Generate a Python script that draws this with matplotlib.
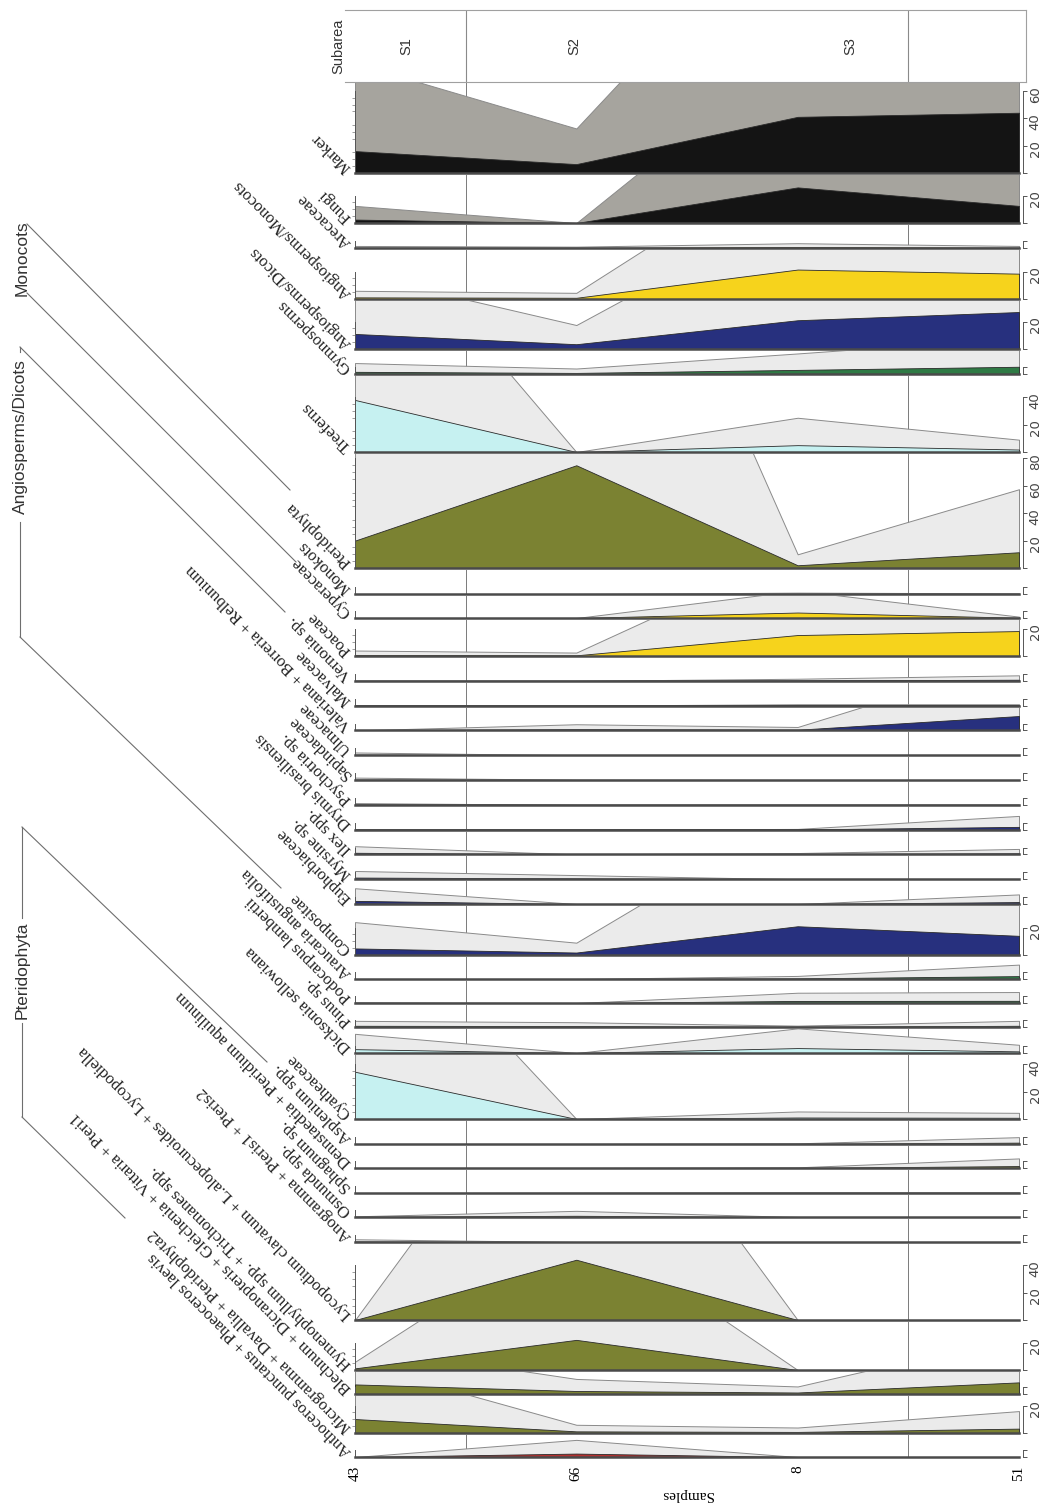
import numpy as np
import matplotlib
matplotlib.use('Agg')
from matplotlib import pyplot as plt
from matplotlib.lines import Line2D

# ---- data (percentages per sample) ----
samples = ['43', '66', '8', '51']
subarea_names = ['S1', 'S2', 'S3']
subarea_pos = [0.23, 0.99, 2.24]
subarea_bounds = [0.5, 2.5]

sum_names = ['Marker', 'Fungi', 'Arecaceae', 'Angiosperms/Monocots',
             'Angiosperms/Dicots', 'Gymnosperms', 'Treeferns', 'Pteridophyta']
sum_values = [[16, 6.5, 41, 44], [2.5, 0, 26, 12.5], [0.3, 0.2, 0.7, 0.3],
              [1.2, 0.9, 21.5, 18.5], [11, 3.5, 21, 27], [1.6, 0.8, 3, 5.3],
              [38, 0, 5, 1.8], [20, 75, 2, 11.5]]

monocot_names = ['Monokots', 'Cyperaceae', 'Poaceae']
monocot_values = [[0, 0, 0.2, 0.1], [0, 0, 4, 0.2], [0.8, 0.5, 15.3, 18.2]]

dicot_names = ['Vernonia sp.', 'Malvaceae', 'Valeriana + Borreria + Relbunium',
               'Ulmaceae', 'Sapindaceae', 'Psychotria sp.', 'Drymis brasiliensis',
               'Ilex spp.', 'Myrsine sp.', 'Euphorbiaceae', 'Compositae']
dicot_values = [[0, 0, 0.3, 0.8], [0, 0, 0.2, 0.2], [0, 0.9, 0.5, 10.5],
                [0.4, 0, 0, 0], [0.35, 0.05, 0, 0], [0.25, 0, 0, 0],
                [0, 0, 0.1, 2], [1.2, 0, 0.2, 0.8], [1.2, 0.6, 0, 0],
                [2.3, 0, 0, 1.4], [4.8, 1.8, 21, 14]]

gymno_names = ['Araucaria angustifolia', 'Podocarpus lambertii', 'Pinus sp.']
gymno_values = [[0, 0, 0.45, 2.1], [0.1, 0, 1.5, 1.6], [0.9, 0.7, 0.2, 0.9]]

treefern_names = ['Dicksonia sellowiana', 'Cyatheaceae']
treefern_values = [[2.8, 0, 3.6, 1.2], [34.5, 0, 1.1, 0.9]]

pterido_names = ['Asplenium spp.', 'Dennstaedtia + Pteridium aquilinum', 'Sphagnum sp.',
                 'Osmunda spp.', 'Anogramma + Pteris1 + Pteris2',
                 'Lycopodium clavatum + L.alopecuroides + Lycopodiella',
                 'Hymenophyllum spp. + Trichomanes spp.',
                 'Blechnum + Dicranopteris + Gleichenia + Vittaria + Pteri1',
                 'Microgramma + Davallia + Pteridophyta2',
                 'Anthoceros punctatus + Phaeoceros laevis']
pterido_values = [[0, 0, 0.1, 1], [0, 0, 0.1, 1.4], [0, 0.05, 0.1, 0.1],
                  [0.1, 0.9, 0, 0], [0.4, 0, 0, 0], [0, 44, 0, 0],
                  [1.2, 22, 0, 0], [7, 2.2, 1.1, 8.5], [10.2, 1.2, 0.8, 3.2],
                  [0, 2.5, 0, 0]]

EXAG = 5  # exaggeration factor of the grey curves

# ---- layout / style ----
W, H = 1043, 1510
X0, X1 = 355, 1019
TOP = 82
GAP = 2
PX_PER_PCT = 1.37

BLACK, YELLOW, BLUE = '#141414', '#f6d31c', '#27307e'
GREEN, CYAN, OLIVE, RED = '#2f7a45', '#c6f1f1', '#7b8232', '#b3302f'

names = sum_names + monocot_names + dicot_names + gymno_names + treefern_names + pterido_names
values = sum_values + monocot_values + dicot_values + gymno_values + treefern_values + pterido_values
colors = ([BLACK, BLACK, YELLOW, YELLOW, BLUE, GREEN, CYAN, OLIVE] + [YELLOW] * 3 +
          [BLUE] * 11 + [GREEN] * 3 + [CYAN] * 2 + [OLIVE] * 9 + [RED])
exag_colors = ['#a6a49e'] * 2 + ['#ebebeb'] * (len(names) - 2)
heights = ([91, 48, 23, 49, 48, 23, 76, 114, 24, 22, 36] + [22.8] * 10 +
           [49, 22, 22, 22, 24, 64, 23, 22, 23, 22, 23, 76, 48, 22, 37, 22])

SERIF = ['Liberation Serif', 'DejaVu Serif']
SANS = ['Liberation Sans', 'DejaVu Sans']


def fx(x):
    return x / W


def fy(y):
    return 1 - y / H


fig = plt.figure(figsize=(W / 100, H / 100), dpi=100)
x = np.arange(len(samples))

y_top = TOP
axes = []
for name, vals, col, ecol, h in zip(names, values, colors, exag_colors, heights):
    base = y_top + h
    ax = fig.add_axes([fx(X0), fy(base), (X1 - X0) / W, h / H])
    axes.append(ax)
    ymax = h / PX_PER_PCT
    v = np.array(vals, dtype=float)
    ax.set_xlim(0, len(samples) - 1)
    ax.set_ylim(0, ymax)
    for b in subarea_bounds:
        ax.axvline(b, color='#7a7a7a', lw=0.7, zorder=0.5)
    ax.fill_between(x, 0, v * EXAG, facecolor=ecol, edgecolor='#8a8a8a', lw=0.7, zorder=1)
    ax.fill_between(x, 0, v, facecolor=col, edgecolor='#2a2a2a', lw=0.6, zorder=2)

    if ymax >= 25:
        majors = np.arange(0, ymax + 0.01, 20)
        labels = [''] + [str(int(m)) for m in majors[1:]]
    else:
        majors = np.array([0, 5])
        labels = ['', '']
    ax.set_yticks(majors, labels)
    ax.set_yticks(np.arange(0, majors[-1] + 0.1, 5), minor=True)
    ax.tick_params(axis='y', which='major', left=False, right=True, labelleft=False,
                   labelright=True, direction='out', length=3, width=0.7, color='#555',
                   labelsize=9.5, labelcolor='#444', labelrotation=90, pad=1)
    ax.tick_params(axis='y', which='minor', left=True, right=False, direction='out',
                   length=2.5, width=0.5, color='#777')
    for lab in ax.get_yticklabels():
        lab.set_fontfamily(SANS)
        lab.set_va('center')
    ax.spines['top'].set_visible(False)
    ax.spines['right'].set_position(('outward', 3))
    ax.spines['right'].set_bounds(0, majors[-1])
    ax.spines['right'].set_linewidth(0.7)
    ax.spines['right'].set_color('#555')
    ax.spines['left'].set_bounds(0, majors[-1])
    ax.spines['left'].set_linewidth(0.7)
    ax.spines['left'].set_color('#555')
    ax.spines['bottom'].set_linewidth(1.8)
    ax.spines['bottom'].set_color('#4a4a4a')
    ax.spines['bottom'].set_zorder(5)
    ax.set_xticks(x)
    ax.tick_params(axis='x', length=0, labelbottom=False)
    ax.patch.set_alpha(0)

    fig.text(fx(349), fy(base - 3), name, rotation=135, rotation_mode='anchor',
             ha='left', va='center', fontsize=12, family=SERIF, color='#222')
    y_top = base + GAP

# samples axis on the last panel
last = axes[-1]
last.set_xticks(x, samples)
last.tick_params(axis='x', labelbottom=True, labelrotation=90, pad=6, labelsize=11)
for lab in last.get_xticklabels():
    lab.set_fontfamily(SERIF)
last.set_xlabel('Samples', rotation=180, fontsize=11, family=SERIF, labelpad=5)

# subarea strip
sax = fig.add_axes([fx(345), fy(82), (1026 - 345) / W, 72 / H])
sax.set_xlim(-10 / 221.3, 3 + 7 / 221.3)
sax.set_ylim(0, 1)
for b in subarea_bounds:
    sax.axvline(b, color='#8a8a8a', lw=0.8)
for s, p in zip(subarea_names, subarea_pos):
    sax.text(p, 0.5, s, rotation=90, ha='center', va='center', fontsize=10.5, family=SANS, color='#333')
sax.set_xticks([])
sax.set_yticks([])
sax.spines['left'].set_visible(False)
for sp in ['top', 'bottom', 'right']:
    sax.spines[sp].set_color('#a0a0a0')
    sax.spines[sp].set_linewidth(0.8)
fig.text(fx(338), fy(46), 'Subarea', rotation=90, ha='center', va='center',
         fontsize=10.5, family=SANS, color='#333')

# group brackets
LC = '#6e6e6e'


def seg(xs, ys):
    fig.add_artist(Line2D([fx(v) for v in xs], [fy(v) for v in ys],
                          transform=fig.transFigure, color=LC, lw=0.8))


fig.text(fx(22), fy(258), 'Monocots', rotation=90, ha='center', va='center',
         fontsize=12.5, family=SANS, color='#333')
seg([27, 290], [224, 490])
seg([27, 296], [293, 562])

fig.text(fx(20), fy(437), 'Angiosperms/Dicots', rotation=90, ha='center', va='center',
         fontsize=12.5, family=SANS, color='#333')
seg([20, 20], [347, 352])
seg([20, 20], [522, 637])
seg([20, 285], [347, 612])
seg([20, 281], [637, 888])

fig.text(fx(22), fy(970), 'Pteridophyta', rotation=90, ha='center', va='center',
         fontsize=12.5, family=SANS, color='#333')
seg([22, 22], [827, 918])
seg([22, 22], [1023, 1117])
seg([22, 267], [827, 1062])
seg([22, 125], [1117, 1218])

fig.savefig('out.png', dpi=100)
